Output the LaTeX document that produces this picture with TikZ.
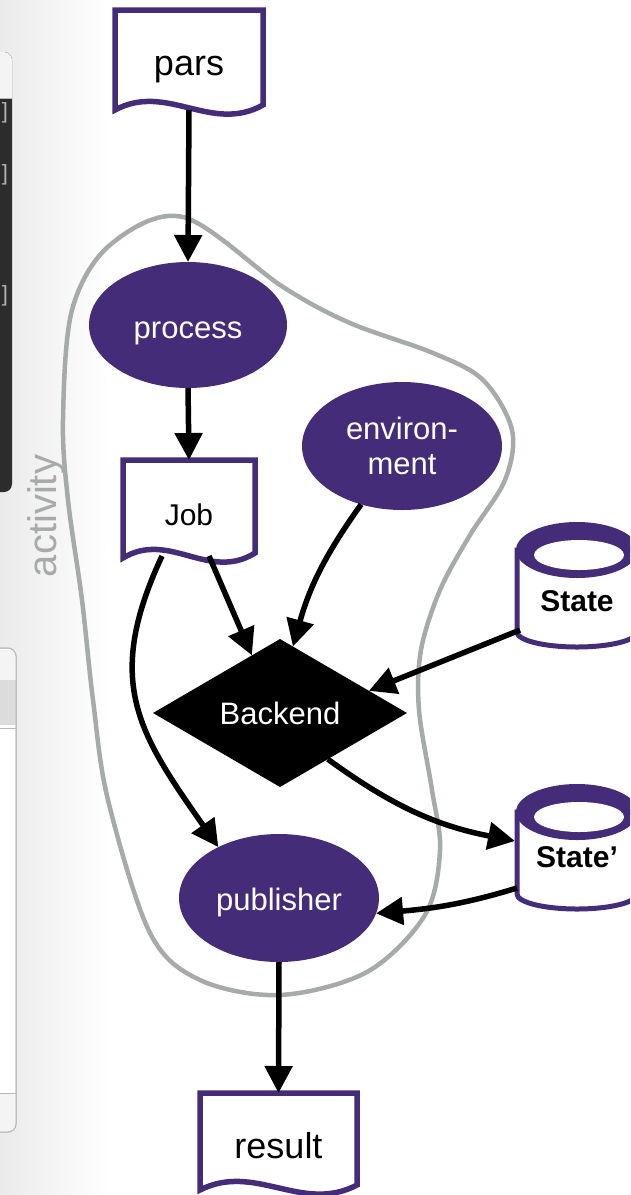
\documentclass[tikz,border=0pt]{standalone}
\usepackage{fontspec}
\setmainfont{Liberation Sans}
\usetikzlibrary{arrows.meta,shapes.geometric,calc}
\definecolor{vio}{RGB}{69,44,120}
\definecolor{blobgray}{RGB}{166,170,168}
\definecolor{darkpanel}{RGB}{44,44,44}
\definecolor{panelhdr}{RGB}{244,244,244}
\definecolor{panelgray}{RGB}{220,220,220}
\definecolor{panelline}{RGB}{185,185,185}
\tikzset{
 ell/.style={ellipse, fill=vio, text=white, minimum width=198pt, minimum height=126pt, inner sep=0pt, outer sep=0pt, font=\fontsize{31pt}{35pt}\selectfont, align=center},
 docbox/.style={rectangle, inner sep=0pt, outer sep=0pt, font=\fontsize{36pt}{38pt}\selectfont},
 docline/.style={draw=vio, line width=5.5pt, line join=miter},
 conn/.style={draw=black, line width=5.5pt, -{Triangle[length=27pt,width=27pt]}},
 cyltext/.style={font=\bfseries\fontsize{30pt}{32pt}\selectfont, inner sep=0pt},
 cylline/.style={fill=white, draw=vio, line width=5pt},
 blob/.style={draw=blobgray, line width=4.5pt},
 bracket/.style={text=gray!60, font=\fontsize{22pt}{22pt}\selectfont, inner sep=0pt},
}
\newcommand\docpath[2]{%
  \draw[docline] (#1.north west) -- (#1.north east) -- ($(#1.south east)+(0,-5)$)
   .. controls ($(#1.south east)+(-0.35*#2,24)$) and ($(#1.south west)+(0.35*#2,-28)$) .. (#1.south west) -- cycle;}
\newcommand\cylshape[2]{%
  \filldraw[cylline] (#1-60,#2+27) -- (#1-60,#2+109) arc[start angle=180,end angle=360,x radius=60pt,y radius=15pt] -- (#1+60,#2+27) -- cycle;
  \fill[vio] (#1,#2+27) ellipse[x radius=61pt,y radius=28pt];
  \fill[white] (#1+2,#2+32) ellipse[x radius=45pt,y radius=15pt];}
\newcommand\low[2]{\raisebox{-#1pt}[0pt][0pt]{#2}}
\begin{document}
\begin{tikzpicture}[x=1pt,y=-1pt]
\clip (0,0) rectangle (630,1195);
\useasboundingbox (0,0) rectangle (630,1195);
% background shadow of side panels
\shade[left color=gray!16, right color=white] (0,0) rectangle (110,1195);
% panel 1
\fill[darkpanel, rounded corners=8pt] (-20,52) rectangle (12,492);
\fill[panelhdr, rounded corners=8pt] (-20,98) |- (12,52) [sharp corners] -- (12,98) -- cycle;
\draw[panelline, line width=0.8pt] (-20,98) -- (12,98);
\node[bracket] (b1) at (5,113) {]};
\node[bracket] (b2) at (5,175) {]};
\node[bracket] (b3) at (5,296) {]};
% panel 2
\filldraw[fill=white, draw=panelline, line width=1pt, rounded corners=8pt] (-20,648) rectangle (16,1132);
\fill[panelhdr] (-20,650) rectangle (15.5,680);
\fill[panelgray] (-20,680) rectangle (15.5,725);
\draw[panelline, line width=0.8pt] (-20,728) -- (15.5,728);
\fill[panelhdr, rounded corners=7pt] (-20,1093) rectangle (15.5,1131.5);
\draw[panelline, line width=1pt] (-20,1093) -- (16,1093);
\draw[panelline, line width=1pt, rounded corners=8pt] (-20,648) rectangle (16,1132);
% activity blob
\draw[blob] plot[smooth cycle, tension=0.55] coordinates {(183,217) (283,287) (350,323) (433,353) (483,380) (512,430) (505,480) (470,535) (440,590) (421,650) (419,710) (432,790) (440,850) (425,915) (367,972) (280,995) (200,980) (150,933) (108,800) (93,700) (82,600) (68,500) (63,420) (72,310) (110,245)};
\node[text=blobgray, rotate=90, font=\fontsize{40pt}{42pt}\selectfont, inner sep=0pt] (act) at (46,516) {activity};
% documents
\node[docbox, minimum width=148pt, minimum height=100pt] (pars) at (189,60) {\low{15}{pars}};
\docpath{pars}{148}
\node[docbox, minimum width=132pt, minimum height=98pt, font=\fontsize{30pt}{32pt}\selectfont] (job) at (189,509) {\low{16}{Job}};
\docpath{job}{132}
\node[docbox, minimum width=157pt, minimum height=97pt] (result) at (278.5,1141.5) {\low{16.5}{result}};
\docpath{result}{157}
% ellipses
\node[ell] (process) at (188,325) {\low{13}{process}};
\node[ell, minimum width=200pt, minimum height=128pt] (env) at (402,446) {environ-\\ment};
\node[ell, minimum width=200pt, minimum height=128pt] (pub) at (279,898) {\low{12}{publisher}};
% backend
\node[diamond, fill=black, text=white, minimum width=254pt, minimum height=148pt, aspect=1.72, inner sep=0pt, outer sep=0pt, font=\fontsize{31pt}{33pt}\selectfont] (be) at (280,713) {Backend};
% cylinders
\cylshape{577}{523}
\node[cyltext] (st1) at (577,601) {State};
\cylshape{577}{785}
\node[cyltext] (st2) at (577,857) {State’};
% connectors
\draw[conn] (pars.south) -- (process.north);
\draw[conn] (process.south) -- (job.north);
\draw[conn] ($(job.south)+(-27,-2)$) to[out=245, in=125, looseness=1.2] (pub.140);
\draw[conn] ($(job.south)+(20,-2)$) -- (be.116);
\draw[conn] (env.235) to[bend right=10] (be.79);
\draw[conn] ($(st1)+(-57,29)$) -- (be.14);
\draw[conn] (be.-44) to[out=-36, in=169] ($(st2)+(-62,-16)$);
\draw[conn] ($(st2)+(-60,31)$) to[out=197, in=5] (pub.-9);
\draw[conn] (pub.south) -- (result.north);
\end{tikzpicture}
\end{document}
